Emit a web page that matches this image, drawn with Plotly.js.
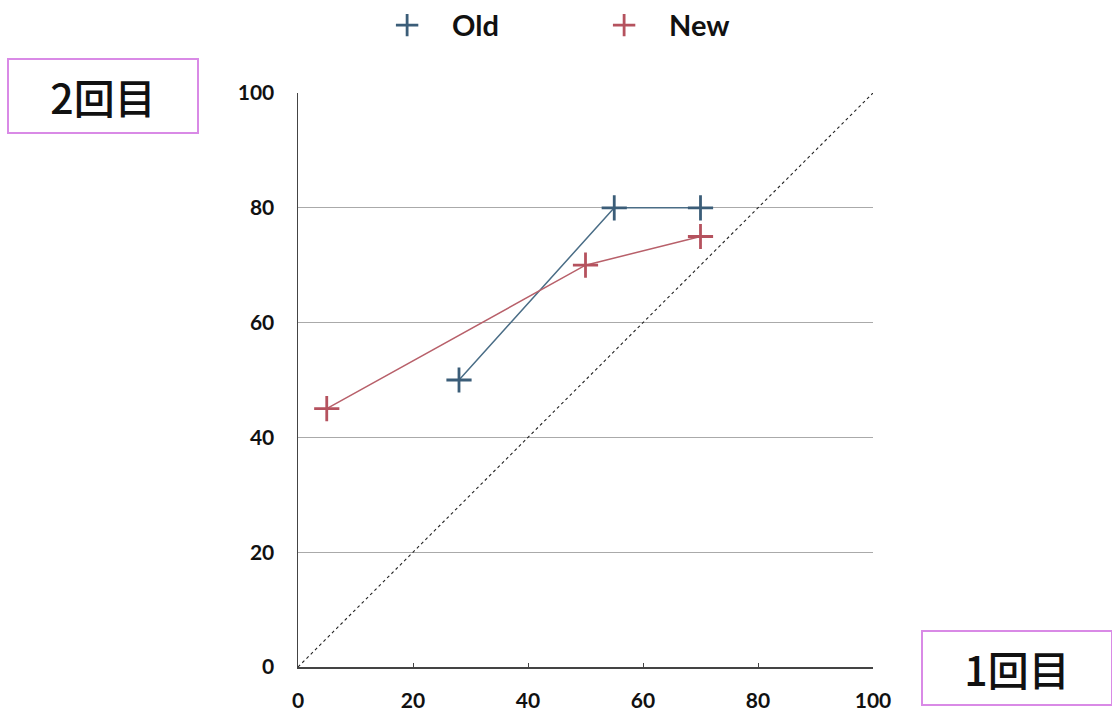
<!DOCTYPE html>
<html>
<head>
<meta charset="utf-8">
<script src="https://cdn.plot.ly/plotly-3.0.1.min.js"></script>
<style>html,body{margin:0;padding:0;background:#fff;}#chart{width:1112px;height:718px;}</style>
</head>
<body>
<div id="chart"></div>
<script>
const oldX = [28, 55, 70];
const oldY = [50, 80, 80];
const newX = [5, 50, 70];
const newY = [45, 70, 75];
const diagX = [0, 100];
const diagY = [0, 100];
const tickVals = [0, 20, 40, 60, 80, 100];
const tickText = ['0', '20', '40', '60', '80', '100'];
const xLabel = '1回目';
const yLabel = '2回目';

const latin = 'Lato, "Noto Sans", sans-serif';
const cjk = '"Noto Sans CJK JP", "Noto Sans", sans-serif';

const oldLine = '#4a6d86', oldMark = '#3b5d78';
const newLine = '#b8606a', newMark = '#b5525e';

const traces = [
  {
    x: diagX, y: diagY, type: 'scatter', mode: 'lines',
    line: {color: '#222', width: 1.1, dash: 'dot'},
    showlegend: false, hoverinfo: 'skip'
  },
  {
    x: oldX, y: oldY, type: 'scatter', mode: 'lines',
    line: {color: oldLine, width: 1.5}, showlegend: false
  },
  {
    x: newX, y: newY, type: 'scatter', mode: 'lines',
    line: {color: newLine, width: 1.5}, showlegend: false
  },
  {
    x: oldX, y: oldY, type: 'scatter', mode: 'markers', name: 'Old',
    marker: {symbol: 'cross-thin-open', size: 18, color: oldMark, line: {color: oldMark, width: 2.8}}
  },
  {
    x: newX, y: newY, type: 'scatter', mode: 'markers', name: 'New',
    marker: {symbol: 'cross-thin-open', size: 18, color: newMark, line: {color: newMark, width: 2.8}}
  }
];

const layout = {
  width: 1112, height: 718,
  paper_bgcolor: '#fff', plot_bgcolor: '#fff',
  margin: {l: 298, r: 239, t: 93, b: 51, autoexpand: false},
  showlegend: true,
  legend: {
    orientation: 'h', x: 0.1115, y: 1.118, xanchor: 'left', yanchor: 'middle',
    font: {family: latin, size: 29, color: '#111', weight: 'bold'},
    itemwidth: 80, entrywidth: 122, entrywidthmode: 'pixels',
    bgcolor: 'rgba(0,0,0,0)'
  },
  xaxis: {
    range: [0, 100], tickvals: tickVals, ticktext: tickText,
    showgrid: false, zeroline: false,
    showline: true, linecolor: '#444', linewidth: 1.5,
    ticks: 'inside', ticklen: 4, tickcolor: '#444',
    ticklabelstandoff: 14,
    tickfont: {family: latin, size: 21, color: '#111', weight: 'bold'},
    fixedrange: true
  },
  yaxis: {
    range: [0, 100], tickvals: tickVals, ticktext: tickText,
    showgrid: true, gridcolor: '#aaa', gridwidth: 1, zeroline: false,
    showline: true, linecolor: '#444', linewidth: 1.5,
    ticks: '', ticklabelstandoff: 18,
    tickfont: {family: latin, size: 21, color: '#111', weight: 'bold'},
    fixedrange: true
  },
  annotations: [
    {
      xref: 'paper', yref: 'paper', x: -0.339, y: 0.9948, xanchor: 'center', yanchor: 'middle',
      text: yLabel, showarrow: false,
      font: {family: cjk, size: 41, color: '#111', weight: 500},
      width: 186, height: 70, borderpad: 1, borderwidth: 2,
      bordercolor: '#d98ae6', bgcolor: '#fff'
    },
    {
      xref: 'paper', yref: 'paper', x: 1.2504, y: -0.0017, xanchor: 'center', yanchor: 'middle',
      text: xLabel, showarrow: false,
      font: {family: cjk, size: 41, color: '#111', weight: 500},
      width: 186, height: 70, borderpad: 1, borderwidth: 2,
      bordercolor: '#d98ae6', bgcolor: '#fff'
    }
  ]
};

Plotly.newPlot('chart', traces, layout, {displayModeBar: false, staticPlot: true});
</script>
</body>
</html>
